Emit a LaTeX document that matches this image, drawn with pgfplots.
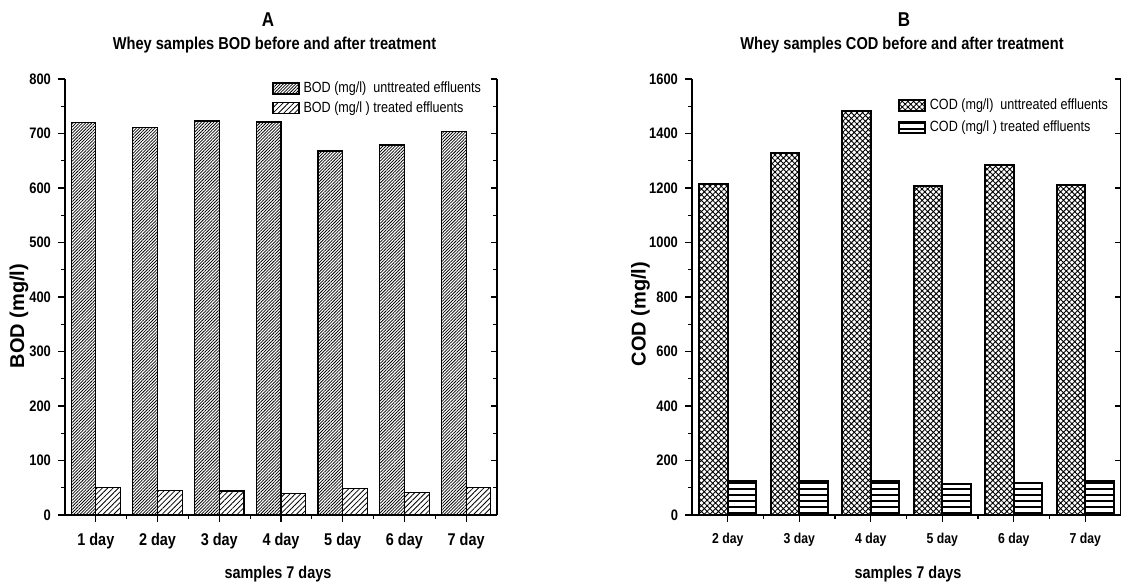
\documentclass[border=0pt]{standalone}
\usepackage{pgfplots}
\pgfplotsset{compat=1.18}
\usepackage{fontspec}
\setmainfont[FakeStretch=0.85]{Liberation Sans}
\newfontfamily\widefont{Liberation Sans}
\usetikzlibrary{patterns.meta}

\pgfplotsset{
  base/.style={
    scale only axis, height=218pt, ymin=0,
    axis x line*=bottom, axis y line*=left,
    axis line style={line width=1pt},
    tick align=outside, major tick length=3.5pt, minor tick length=2pt,
    every tick/.style={black, line width=0.6pt},
    /pgf/number format/assume math mode=true,
    /pgf/number format/1000 sep={},
    yticklabel style={font=\bfseries\fontsize{7.6}{8}\selectfont},
    clip=false,
    legend style={draw=none, fill=none, font=\fontsize{7.4}{9}\selectfont,
      anchor=north west, legend cell align=left, inner sep=0pt},
  },
  rightax/.style={
    scale only axis, height=218pt, ymin=0,
    axis x line=none, axis y line*=right,
    axis line style={line width=1pt},
    tick align=inside, major tick length=3pt, minor tick length=2pt,
    every tick/.style={black, line width=0.6pt},
    yticklabels={},
  },
  sw/.style={legend image code/.code={\draw[##1] (0pt,-2.75pt) rectangle (13pt,2.75pt);}},
}

\pgfplotstableread{
x unt tr
1 720 50
2 711 45
3 723 44
4 721 40
5 668 48
6 679 42
7 703 51
}\bod

\pgfplotstableread{
x unt tr
2 1214 126
3 1329 124
4 1482 125
5 1208 113
6 1285 119
7 1211 126
}\cod

\begin{document}
\begin{tikzpicture}
% ---------- A ----------
\begin{axis}[base, at={(32.5pt,35pt)}, anchor=south west, width=216pt,
  xmin=0.5, xmax=7.5, ymax=800,
  xtick={1,...,7}, xticklabels={1 day,2 day,3 day,4 day,5 day,6 day,7 day},
  minor xtick={1.5,2.5,...,6.5},
  xticklabel style={font=\bfseries\fontsize{8.5}{10}\selectfont, yshift=-2pt},
  ytick distance=100, minor y tick num=1,
  legend style={at={(0.479,1.004)}, row sep=-1pt},
]
\addplot[ybar, bar width=0.4, bar shift=-0.2, draw=black, line width=0.6pt,
  pattern={Lines[angle=45,distance=1.1pt,line width=0.38pt]}, sw]
  table[x=x,y=unt]{\bod};
\addlegendentry{BOD (mg/l)\ \ unttreated effluents}
\addplot[ybar, bar width=0.4, bar shift=0.2, draw=black, line width=0.6pt,
  pattern={Lines[angle=45,distance=1.9pt,line width=0.4pt]}, sw]
  table[x=x,y=tr]{\bod};
\addlegendentry{BOD (mg/l ) treated effluents}
\end{axis}
\begin{axis}[rightax, at={(32.5pt,35pt)}, anchor=south west, width=216pt,
  xmin=0.5, xmax=7.5, ymax=800, ytick distance=100, minor y tick num=1]
\end{axis}

% ---------- B ----------
\begin{axis}[base, at={(346pt,35pt)}, anchor=south west, width=214.5pt,
  xmin=1.5, xmax=7.5, ymax=1600,
  xtick={2,...,7}, xticklabels={2 day,3 day,4 day,5 day,6 day,7 day},
  minor xtick={2.5,3.5,...,6.5},
  xticklabel style={font=\bfseries\fontsize{7.2}{8}\selectfont, yshift=-2pt},
  ytick distance=200, minor y tick num=1,
  legend style={at={(0.479,0.964)}, row sep=0pt},
]
\addplot[ybar, bar width=0.4, bar shift=-0.2, draw=black, line width=1pt,
  pattern={Hatch[angle=45,distance=2pt,line width=0.45pt]}, sw]
  table[x=x,y=unt]{\cod};
\addlegendentry{COD (mg/l)\ \ unttreated effluents}
\addplot[ybar, bar width=0.4, bar shift=0.2, draw=black, line width=1pt,
  pattern={Lines[angle=0,distance=3pt,line width=0.7pt]}, sw]
  table[x=x,y=tr]{\cod};
\addlegendentry{COD (mg/l ) treated effluents}
\end{axis}
\begin{axis}[rightax, at={(346pt,35pt)}, anchor=south west, width=214.5pt,
  xmin=1.5, xmax=7.5, ymax=1600, ytick distance=200, minor y tick num=0]
\end{axis}

% ---------- texts ----------
\node[font=\bfseries\fontsize{10}{12}\selectfont, anchor=base] at (134pt,279pt) {A};
\node[font=\bfseries\fontsize{8.6}{10}\selectfont, anchor=base] at (137.25pt,267.5pt) {Whey samples BOD before and after treatment};
\node[font=\bfseries\fontsize{8.5}{10}\selectfont, anchor=base] at (139pt,3.5pt) {samples 7 days};
\node[font=\widefont\bfseries\fontsize{10}{12}\selectfont, rotate=90] at (9.5pt,134.5pt) {BOD (mg/l)};

\node[font=\bfseries\fontsize{10}{12}\selectfont, anchor=base] at (452pt,279pt) {B};
\node[font=\bfseries\fontsize{8.6}{10}\selectfont, anchor=base] at (451pt,267.5pt) {Whey samples COD before and after treatment};
\node[font=\bfseries\fontsize{8.5}{10}\selectfont, anchor=base] at (454pt,3.5pt) {samples 7 days};
\node[font=\widefont\bfseries\fontsize{10}{12}\selectfont, rotate=90] at (320.3pt,135.5pt) {COD (mg/l)};

\pgfresetboundingbox
\path[use as bounding box] (0,0) rectangle (560.5pt,292.5pt);
\end{tikzpicture}
\end{document}
